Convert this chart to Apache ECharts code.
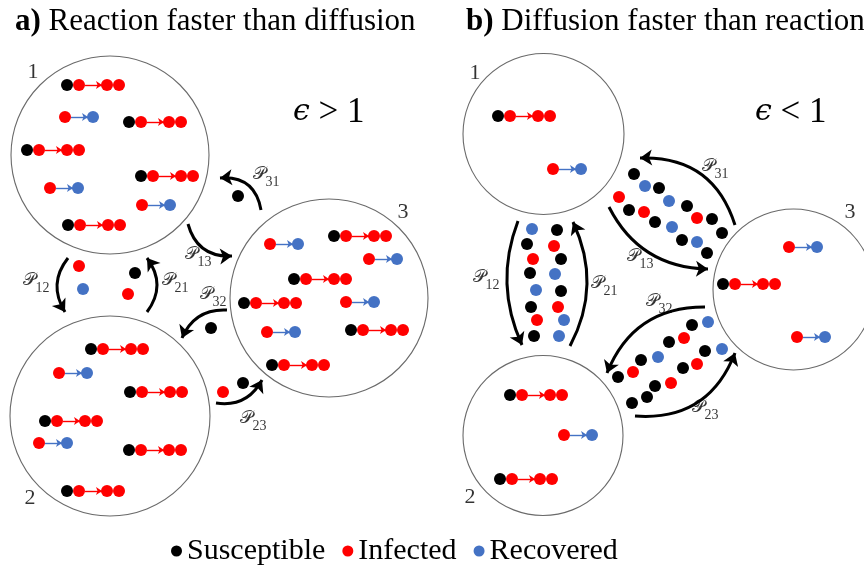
<!DOCTYPE html>
<html><head><meta charset="utf-8">
<script src="https://cdn.jsdelivr.net/npm/echarts@6/dist/echarts.min.js"></script>
<style>html,body{margin:0;padding:0;background:#fff}#c{width:864px;height:566px}</style>
</head><body><div id="c"></div>
<script>
// ---------- data (diagram coordinates, x right, y down) ----------
// patches: [cx, cy, radius]
const patchesA = [[110,155,99],[110,416,100],[329,298,99]];
const patchesB = [[543.5,134,80.5],[543,435.5,80],[793.5,289.5,80.5]];
const patchNames = ['1','2','3'];
const patchLabelsA = [[33,72],[30,498],[403,212]];
const patchLabelsB = [[475,73],[470,497],[850,212]];

// infection reactions S + I -> I + I (anchor = susceptible dot)
const infectionA = [[67,85],[129,122],[27,150],[141,176],[68,225],
                    [91,349],[130,392],[45,421],[129,450],[67,491],
                    [334,236],[294,279],[244,303],[351,330],[272,365]];
const infectionB = [[498,116],[510,395],[500,479],[723,284]];
// recovery reactions I -> R (anchor = infected dot)
const recoveryA = [[65,117],[50,188],[142,205],[59,373],[39,443],
                   [270,244],[369,259],[346,302],[267,332]];
const recoveryB = [[553,169],[564,435],[789,247],[797,337]];

// individuals travelling between patches
const travelSusA = [[238,196],[135,273],[211,328],[243,383]];
const travelInfA = [[79,266],[128,294],[223,392]];
const travelRecA = [[83,289]];
const travelSusB = [[527,244],[530,273],[531,307],[534,336],[557,230],[561,259],[561,291],
                    [634,174],[659,188],[687,206],[712,219],[722,233],
                    [629,210],[655,222],[682,240],[707,253],
                    [692,325],[669,342],[641,360],[618,377],
                    [705,351],[683,368],[655,386],[647,397],[632,403]];
const travelInfB = [[533,259],[537,320],[554,246],[558,307],[697,218],[619,197],[644,212],
                    [684,338],[633,372],[697,364],[671,383]];
const travelRecB = [[532,229],[536,290],[555,274],[564,320],[559,336],
                    [645,186],[669,201],[672,227],[697,242],
                    [708,322],[658,357],[722,349]];

// transfer arrows: [fromX, fromY, toX, toY, curveness]
const transfersA = [[68,258,65,312,0.35],[147,312,147,258,0.37],[261,210,220,178,0.45],
                    [188,224,232,256,0.4],[227,310,182,338,0.35],[216,403,262,380,0.35]];
const transfersB = [[518,221,522,345,0.21],[570,346,573,222,0.25],[735,225,640,158,0.38],
                    [609,207,708,269,0.3],[705,307,607,373,0.34],[635,416,735,353,0.37]];
const transferNames = ['12','21','31','13','32','23'];
const transferLabelsA = [[36,283],[175,283],[266,177],[198,257],[213,297],[253,421]];
const transferLabelsB = [[486,280],[604,286],[715,169],[640,259],[659,304],[705,410]];

const legendNames = ['Susceptible','Infected','Recovered'];
const titleA = ['a)','Reaction faster than diffusion'];
const titleB = ['b)','Diffusion faster than reaction'];
const regimeA = ['ϵ','> 1'];
const regimeB = ['ϵ','< 1'];

// ---------- build ----------
const SERIF = '"Liberation Serif","DejaVu Serif",serif';
const COLORS = {S:'#000000', I:'#ff0000', R:'#4472c4'};
const infections = infectionA.concat(infectionB);
const recoveries = recoveryA.concat(recoveryB);

const susDots = infections.map(p => [p[0], p[1]]).concat(travelSusA, travelSusB);
const infDots = [];
infections.forEach(p => { infDots.push([p[0]+12,p[1]],[p[0]+40,p[1]],[p[0]+52,p[1]]); });
recoveries.forEach(p => { infDots.push([p[0],p[1]]); });
travelInfA.concat(travelInfB).forEach(p => infDots.push(p));
const recDots = recoveries.map(p => [p[0]+28,p[1]]).concat(travelRecA, travelRecB);

const reactArrowsI = infections.map(p => ({coords:[[p[0]+18,p[1]],[p[0]+35,p[1]]]}));
const reactArrowsR = recoveries.map(p => ({coords:[[p[0]+6,p[1]],[p[0]+23,p[1]]]}));

// arrows drawn from target to source with arrow on the start end (positive curveness)
const transferData = transfersA.concat(transfersB).map(t => ({
  coords:[[t[2],t[3]],[t[0],t[1]]], lineStyle:{curveness:t[4]}
}));

const labelData = [];
transferLabelsA.concat(transferLabelsB).forEach((p,i) => {
  labelData.push({value:[p[0],p[1]], name:'{p|𝒫}{s|' + transferNames[i % 6] + '}'});
});
patchLabelsA.concat(patchLabelsB).forEach((p,i) => {
  labelData.push({value:[p[0],p[1]], name:'{n|' + patchNames[i % 3] + '}'});
});

const titleStyle = {fontFamily:SERIF,fontSize:31,fontWeight:'normal',color:'#000',
  rich:{b:{fontFamily:SERIF,fontSize:31,fontWeight:'bold',color:'#000'}}};
const regimeStyle = {fontFamily:SERIF,fontSize:35,fontWeight:'normal',color:'#000',
  rich:{e:{fontFamily:'"DejaVu Serif",serif',fontStyle:'italic',fontSize:30,color:'#000'}}};

const chart = echarts.init(document.getElementById('c'));
chart.setOption({
  animation:false,
  backgroundColor:'#ffffff',
  grid:{left:0,right:0,top:0,bottom:0},
  xAxis:{type:'value',min:0,max:864,show:false},
  yAxis:{type:'value',min:0,max:566,inverse:true,show:false},
  title:[
    {text:'{b|'+titleA[0]+'} '+titleA[1], left:10, top:1, textStyle:titleStyle},
    {text:'{b|'+titleB[0]+'} '+titleB[1], left:461, top:1, textStyle:titleStyle},
    {text:'{e|'+regimeA[0]+'} '+regimeA[1], left:288, top:90, textStyle:regimeStyle},
    {text:'{e|'+regimeB[0]+'} '+regimeB[1], left:750, top:90, textStyle:regimeStyle}
  ],
  legend:{
    data:legendNames, left:166, top:531, icon:'circle', itemWidth:11, itemHeight:11, itemGap:17,
    textStyle:{fontFamily:SERIF,fontSize:30,color:'#000'}, selectedMode:false
  },
  series:[
    {type:'custom', name:'patches', silent:true, z:1,
     data:patchesA.concat(patchesB), encode:{x:0,y:1},
     renderItem:(params, api) => {
       const c = api.coord([api.value(0), api.value(1)]);
       const r = api.size([api.value(2), 0])[0];
       return {type:'circle', shape:{cx:c[0],cy:c[1],r:r},
               style:{fill:'#ffffff', stroke:'#6a6a6a', lineWidth:1.1}};
     }},
    {type:'lines', name:'transfers', coordinateSystem:'cartesian2d', silent:true, z:3,
     symbol:['arrow','none'], symbolSize:[12,14],
     lineStyle:{color:'#000', width:3, opacity:1},
     data:transferData},
    {type:'lines', name:'infectionArrows', coordinateSystem:'cartesian2d', silent:true, z:3,
     symbol:['none','arrow'], symbolSize:[5,6],
     lineStyle:{color:COLORS.I, width:1.4, opacity:1, curveness:0},
     data:reactArrowsI},
    {type:'lines', name:'recoveryArrows', coordinateSystem:'cartesian2d', silent:true, z:3,
     symbol:['none','arrow'], symbolSize:[5,6],
     lineStyle:{color:COLORS.R, width:1.4, opacity:1, curveness:0},
     data:reactArrowsR},
    {type:'scatter', name:legendNames[0], symbol:'circle', symbolSize:12, z:4, silent:true,
     itemStyle:{color:COLORS.S, opacity:1}, data:susDots},
    {type:'scatter', name:legendNames[1], symbol:'circle', symbolSize:12, z:4, silent:true,
     itemStyle:{color:COLORS.I, opacity:1}, data:infDots},
    {type:'scatter', name:legendNames[2], symbol:'circle', symbolSize:12, z:4, silent:true,
     itemStyle:{color:COLORS.R, opacity:1}, data:recDots},
    {type:'scatter', name:'labels', symbolSize:0, z:5, silent:true, data:labelData,
     label:{show:true, position:'inside', formatter:p => p.name, color:'#000',
       rich:{
         p:{fontFamily:'"DejaVu Serif","DejaVu Sans",serif', fontSize:18, lineHeight:24, color:'#000', verticalAlign:'top'},
         s:{fontFamily:SERIF, fontSize:14, lineHeight:14, color:'#000', verticalAlign:'bottom'},
         n:{fontFamily:SERIF, fontSize:22, color:'#000'}
       }}}
  ]
});
</script></body></html>
